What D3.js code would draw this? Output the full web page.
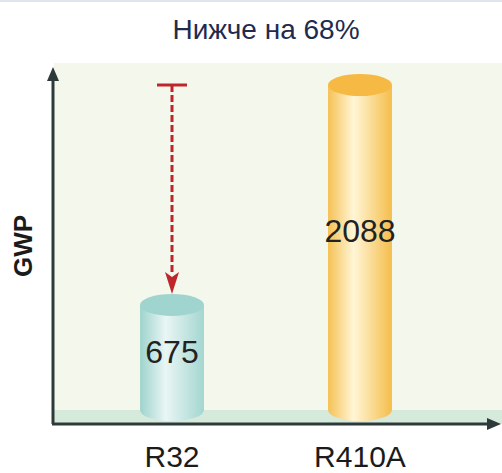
<!DOCTYPE html>
<html>
<head>
<meta charset="utf-8">
<script src="https://cdn.jsdelivr.net/npm/d3@7"></script>
<style>
  body { margin: 0; background: #fff; }
  svg { display: block; font-family: "Liberation Sans", Arial, sans-serif; }
</style>
</head>
<body>
<svg id="chart" width="502" height="473"></svg>
<script>
// data
let categories = ["R32", "R410A"]
let gwp = [675, 2088]
let title = "Нижче на 68%"
let yLabel = "GWP"

let svg = d3.select("#chart")
let width = 502, height = 473

let x = d3.scaleBand()
    .domain(categories)
    .range([16, 516])
    .padding(0.66)

let y = d3.scaleLinear()
    .domain([0, 2088])
    .range([410, 85])

let ry = 11
let colors = {
    R32: { edge1: "#9ed3cd", mid: "#e9f6f4", edge2: "#a4d6d1", top: "#a0d4ce" },
    R410A: { edge1: "#f6c155", mid: "#fff6d6", edge2: "#f5bd4c", top: "#f6b943" }
}

// top border
svg.append("line")
    .attr("x1", 0).attr("x2", width)
    .attr("y1", 1).attr("y2", 1)
    .style("stroke", "#dfe5ec").style("stroke-width", 2)

// title
svg.append("text")
    .attr("x", 266).attr("y", 39)
    .attr("text-anchor", "middle")
    .style("font-size", "28px")
    .style("fill", "#1f2b4e")
    .text(title)

// plot background
svg.append("rect")
    .attr("x", 54).attr("y", 63)
    .attr("width", width - 54).attr("height", y(0) - 63)
    .style("fill", "#f4f8ec")
svg.append("rect")
    .attr("x", 54).attr("y", y(0))
    .attr("width", width - 54).attr("height", 14)
    .style("fill", "#d6eadc")

// gradients
let defs = svg.append("defs")
categories.forEach(function (c) {
    let g = defs.append("linearGradient")
        .attr("id", "grad-" + c)
        .attr("x1", "0%").attr("x2", "100%")
        .attr("y1", "0%").attr("y2", "0%")
    g.append("stop").attr("offset", "0%").attr("stop-color", colors[c].edge1)
    g.append("stop").attr("offset", "40%").attr("stop-color", colors[c].mid)
    g.append("stop").attr("offset", "100%").attr("stop-color", colors[c].edge2)
})

// cylinders
let data = categories.map(function (c, i) { return { name: c, value: gwp[i] } })
let bw = x.bandwidth()

let bars = svg.append("g")
    .selectAll("g.bar")
    .data(data)
    .join("g")
    .attr("class", "bar")

bars.append("path")
    .attr("d", function (d) {
        let x0 = x(d.name), x1 = x0 + bw, yt = y(d.value), yb = y(0)
        return "M" + x0 + "," + yt + " L" + x0 + "," + yb +
            " A" + bw / 2 + "," + ry + " 0 0 0 " + x1 + "," + yb +
            " L" + x1 + "," + yt + " Z"
    })
    .style("fill", function (d) { return "url(#grad-" + d.name + ")" })

bars.append("ellipse")
    .attr("cx", function (d) { return x(d.name) + bw / 2 })
    .attr("cy", function (d) { return y(d.value) })
    .attr("rx", bw / 2)
    .attr("ry", ry)
    .style("fill", function (d) { return colors[d.name].top })

bars.append("text")
    .attr("x", function (d) { return x(d.name) + bw / 2 })
    .attr("y", function (d) { return y(d.value * 0.55) + 11 })
    .attr("text-anchor", "middle")
    .style("font-size", "32px")
    .style("fill", "#222")
    .text(function (d) { return d.value })

// axes
let axisColor = "#2e3a3a"
svg.append("line")
    .attr("x1", 53).attr("x2", 53)
    .attr("y1", y(0) + 14).attr("y2", 80)
    .style("stroke", axisColor).style("stroke-width", 3)
svg.append("path")
    .attr("d", "M53,67 L47,81 L59,81 Z")
    .style("fill", axisColor)
svg.append("line")
    .attr("x1", 52).attr("x2", 488)
    .attr("y1", y(0) + 14).attr("y2", y(0) + 14)
    .style("stroke", axisColor).style("stroke-width", 3)
svg.append("path")
    .attr("d", "M501," + (y(0) + 14) + " L487," + (y(0) + 8) + " L487," + (y(0) + 20) + " Z")
    .style("fill", axisColor)

// x labels
svg.append("g")
    .selectAll("text")
    .data(categories)
    .join("text")
    .attr("x", function (d) { return x(d) + bw / 2 })
    .attr("y", 467)
    .attr("text-anchor", "middle")
    .style("font-size", "30px")
    .style("fill", "#1b1b1b")
    .text(function (d) { return d })

// y label
svg.append("text")
    .attr("transform", "translate(32,246) rotate(-90)")
    .attr("text-anchor", "middle")
    .style("font-size", "26px")
    .style("font-weight", "bold")
    .style("fill", "#1b1b1b")
    .text(yLabel)

// reduction arrow
let ax = x("R32") + bw / 2
let red = "#bf262c"
svg.append("line")
    .attr("x1", ax - 15).attr("x2", ax + 15)
    .attr("y1", y(gwp[1])).attr("y2", y(gwp[1]))
    .style("stroke", red).style("stroke-width", 3)
svg.append("line")
    .attr("x1", ax).attr("x2", ax)
    .attr("y1", y(gwp[1])).attr("y2", y(gwp[0]) - ry - 20)
    .style("stroke", red).style("stroke-width", 3)
    .style("stroke-dasharray", "7,3")
svg.append("path")
    .attr("d", "M" + ax + "," + (y(gwp[0]) - ry) + " L" + (ax - 7) + "," + (y(gwp[0]) - ry - 22) +
        " L" + ax + "," + (y(gwp[0]) - ry - 17) + " L" + (ax + 7) + "," + (y(gwp[0]) - ry - 22) + " Z")
    .style("fill", red)
</script>
</body>
</html>
